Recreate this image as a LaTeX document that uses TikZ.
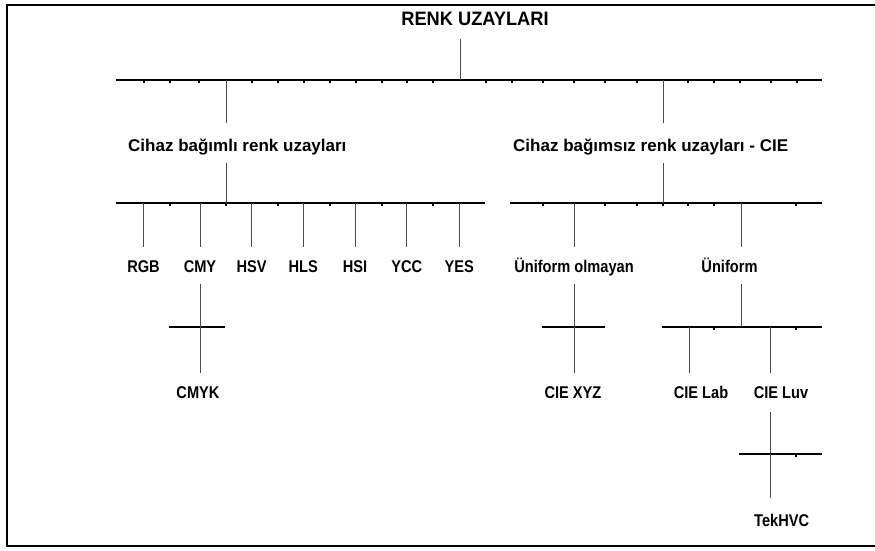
\documentclass[tikz,border=0pt]{standalone}
\usepackage{fontspec}
\setmainfont{Liberation Sans}
\newfontfamily\leaffont[FakeStretch=0.86]{Liberation Sans}
\newfontfamily\titlefont[FakeStretch=0.94]{Liberation Sans}

\begin{document}
\begin{tikzpicture}[
      x=1pt, y=-1pt,
      frame/.style={line width=1.8pt, black},
      bar/.style={line width=1.8pt, black},
      stem/.style={line width=0.9pt, black!70},
      tick/.style={line width=1.3pt, black},
      titlelbl/.style={font=\titlefont\fontsize{19.4}{21}\selectfont\bfseries, inner sep=0pt, anchor=base},
      grouplbl/.style={font=\fontsize{17}{19}\selectfont\bfseries, inner sep=0pt, anchor=base west},
      leaflbl/.style={font=\leaffont\fontsize{17}{19}\selectfont\bfseries, inner sep=0pt, anchor=base},
  ]
  \useasboundingbox (0,0) rectangle (875,550);

  % open frame (right side cut off)
  \draw[frame] (875,5) -- (7,5) -- (7,546) -- (875,546);

  % Root
  \node[titlelbl] (renk) at (475,25.5) {RENK UZAYLARI};

  % --- Level 1 bar ---
  \coordinate (mainL) at (116,80);
  \coordinate (mainR) at (822,80);
  \coordinate (rootJ) at (460,80);
  \coordinate (leftJ) at (226,80);
  \coordinate (rightJ) at (663,80);
  \draw[bar] (mainL) -- (mainR);
  \foreach \x in {144,170,199,252,278,304,330,356,382,407,433,486,512,543,574,605,637,688,714,740,771,797}
    \draw[tick] (\x,80.9) -- ++(0,1.6);
  \coordinate (rootTop) at (0,39);
  \draw[stem] (rootJ |- rootTop) -- (rootJ);

  % --- Group labels ---
  \node[grouplbl] (bagimli) at (128,151.7) {Cihaz bağımlı renk uzayları};
  \node[grouplbl] (bagimsiz) at (513,151.7) {Cihaz bağımsız renk uzayları - CIE};

  \coordinate (grpTop) at (0,123);
  \coordinate (grpBot) at (0,163);
  \draw[stem] (leftJ) -- (leftJ |- grpTop);
  \draw[stem] (rightJ) -- (rightJ |- grpTop);

  % --- Level 2 bars ---
  \coordinate (lbarL) at (116,203);
  \coordinate (lbarR) at (485,203);
  \coordinate (rbarL) at (510,203);
  \coordinate (rbarR) at (822,203);
  \draw[bar] (lbarL) -- (lbarR);
  \draw[bar] (rbarL) -- (rbarR);
  \foreach \x in {170,226,278,330,382,433}
    \draw[tick] (\x,203.9) -- ++(0,1.6);
  \foreach \x in {543,605,637,663,688,714,796}
    \draw[tick] (\x,203.9) -- ++(0,1.6);
  \draw[stem] (leftJ |- grpBot) -- (leftJ |- lbarL);
  \draw[stem] (rightJ |- grpBot) -- (rightJ |- rbarL);

  % --- Device dependent leaves ---
  \coordinate (leafTop) at (0,246.7);
  \foreach \n/\x/\t in {rgb/143.5/RGB, cmy/200/CMY, hsv/251.7/HSV, hls/303.3/HLS,
                        hsi/355/HSI, ycc/406.7/YCC, yes/459.3/YES} {
    \node[leaflbl] (\n) at (\x,272.3) {\t};
    \draw[stem] (\n |- lbarL) -- (\n |- leafTop);
  }

  % --- Device independent leaves ---
  \node[leaflbl] (uniolm) at (574,272.3) {Üniform olmayan};
  \node[leaflbl] (uni) at (729.5,272.3) {Üniform};
  \coordinate (uniJ) at (741,203);
  \draw[stem] (uniolm |- rbarL) -- (uniolm |- leafTop);
  \draw[stem] (uniJ) -- (uniJ |- leafTop);

  % --- Level 3 ---
  \def\subtop{284}
  \def\suby{327}
  \coordinate (subTop) at (0,\subtop);
  \coordinate (subEnd) at (0,373);

  % CMY -> CMYK
  \node[leaflbl] (cmyk) at (198,398.3) {CMYK};
  \draw[bar] (169,\suby) coordinate (cmyBarL) -- (225,\suby) coordinate (cmyBarR);
  \draw[stem] (cmy |- subTop) -- (cmy |- subEnd);

  % Uniform olmayan -> CIE XYZ
  \node[leaflbl] (xyz) at (573,398.3) {CIE XYZ};
  \draw[bar] (542,\suby) coordinate (xyzBarL) -- (605,\suby) coordinate (xyzBarR);
  \draw[stem] (uniolm |- subTop) -- (uniolm |- subEnd);

  % Uniform -> CIE Lab, CIE Luv
  \node[leaflbl] (lab) at (701,398.3) {CIE Lab};
  \node[leaflbl] (luv) at (781,398.3) {CIE Luv};
  \coordinate (uniBarL) at (662,\suby);
  \coordinate (uniBarR) at (822,\suby);
  \coordinate (labJ) at (689,\suby);
  \coordinate (luvJ) at (770,\suby);
  \draw[bar] (uniBarL) -- (uniBarR);
  \foreach \x in {714,796}
    \draw[tick] (\x,327.9) -- ++(0,1.6);
  \draw[stem] (uniJ |- subTop) -- (uniJ |- uniBarL);
  \draw[stem] (labJ) -- (labJ |- subEnd);
  \draw[stem] (luvJ) -- (luvJ |- subEnd);

  % CIE Luv -> TekHVC
  \node[leaflbl] (tekhvc) at (781.7,526.7) {TekHVC};
  \coordinate (tekBarL) at (739,454);
  \coordinate (tekBarR) at (822,454);
  \coordinate (tekTop) at (0,412);
  \coordinate (tekEnd) at (0,498);
  \draw[bar] (tekBarL) -- (tekBarR);
  \draw[tick] (796,454.9) -- ++(0,1.6);
  \draw[stem] (luvJ |- tekTop) -- (luvJ |- tekEnd);

  \end{tikzpicture}
\end{document}
